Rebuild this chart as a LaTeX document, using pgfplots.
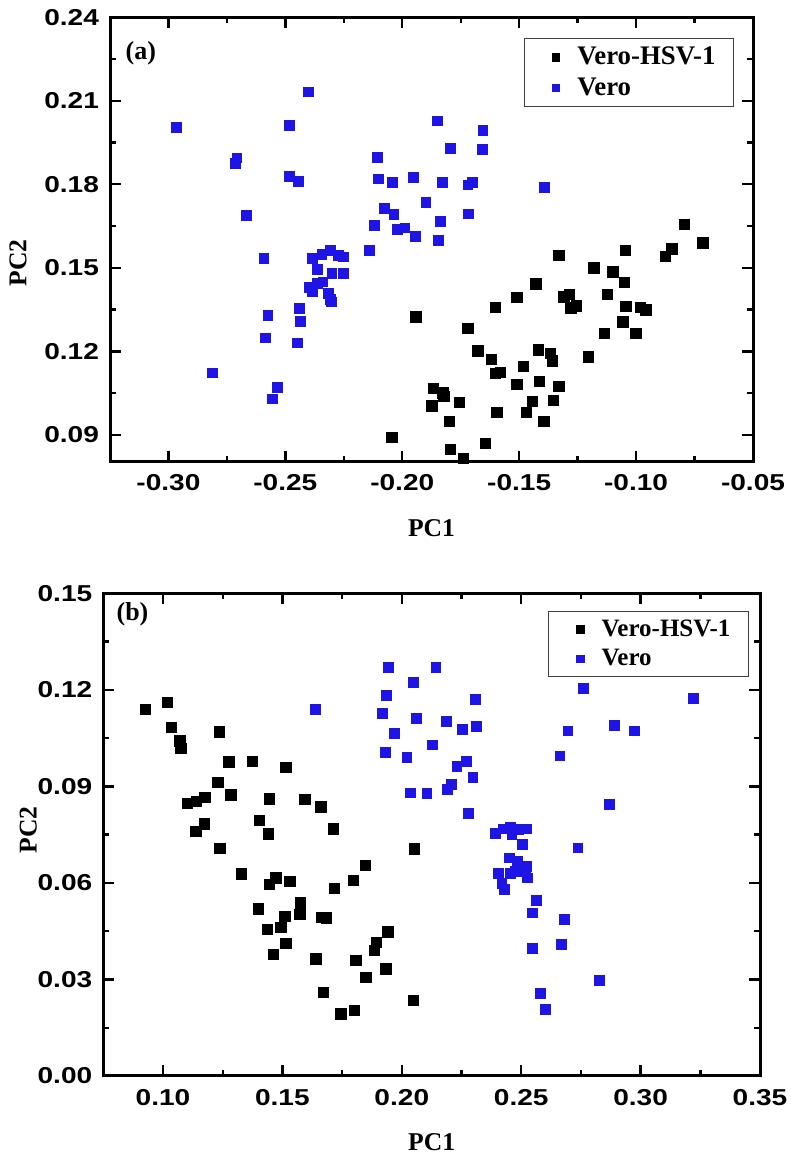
\documentclass[border=0pt]{standalone}
\usepackage{fontspec}
\setmainfont{Liberation Serif}
\newfontfamily\tickfont[FakeStretch=1.22]{Liberation Sans}
\usepackage{pgfplots}
\pgfplotsset{compat=1.18}
\definecolor{vblue}{RGB}{30,20,230}

\pgfplotstableread{
x y
-0.2045 0.0892
-0.1943 0.1324
-0.0795 0.1656
-0.0714 0.1590
-0.0848 0.1568
-0.0874 0.1542
-0.1047 0.1562
-0.1330 0.1546
-0.1181 0.1500
-0.1099 0.1486
-0.1051 0.1448
-0.1429 0.1442
-0.1510 0.1394
-0.1602 0.1358
-0.1309 0.1396
-0.1285 0.1404
-0.1280 0.1356
-0.1255 0.1364
-0.1122 0.1404
-0.1044 0.1362
-0.0983 0.1358
-0.0958 0.1350
-0.1057 0.1306
-0.1135 0.1266
-0.1001 0.1266
-0.1720 0.1284
-0.1677 0.1202
-0.1418 0.1206
-0.1368 0.1194
-0.1358 0.1166
-0.1205 0.1180
-0.1618 0.1172
-0.1483 0.1146
-0.1602 0.1122
-0.1582 0.1124
-0.1511 0.1082
-0.1415 0.1092
-0.1330 0.1074
-0.1868 0.1068
-0.1826 0.1052
-0.1822 0.1038
-0.1755 0.1018
-0.1873 0.1004
-0.1443 0.1021
-0.1354 0.1024
-0.1595 0.0982
-0.1469 0.0982
-0.1800 0.0950
-0.1394 0.0950
-0.1646 0.0870
-0.1795 0.0848
-0.1738 0.0816
}\topblack

\pgfplotstableread{
x y
-0.2966 0.2006
-0.2402 0.2132
-0.2484 0.2012
-0.2708 0.1895
-0.2715 0.1874
-0.2484 0.1830
-0.2444 0.1812
-0.2667 0.1688
-0.2107 0.1896
-0.2103 0.1820
-0.2043 0.1808
-0.1954 0.1824
-0.2078 0.1714
-0.2036 0.1692
-0.2021 0.1638
-0.1989 0.1644
-0.2121 0.1652
-0.1943 0.1612
-0.2142 0.1564
-0.2592 0.1534
-0.2386 0.1534
-0.2344 0.1549
-0.2308 0.1564
-0.2273 0.1546
-0.2251 0.1540
-0.2365 0.1494
-0.2301 0.1480
-0.2251 0.1480
-0.2400 0.1430
-0.2386 0.1415
-0.2365 0.1445
-0.2340 0.1450
-0.2315 0.1408
-0.2308 0.1386
-0.2302 0.1378
-0.2575 0.1330
-0.2440 0.1356
-0.2436 0.1308
-0.2585 0.1249
-0.2449 0.1231
-0.2811 0.1123
-0.2536 0.1072
-0.2557 0.1030
-0.1851 0.2028
-0.1656 0.1994
-0.1795 0.1928
-0.1659 0.1926
-0.1829 0.1808
-0.1720 0.1798
-0.1701 0.1808
-0.1394 0.1790
-0.1899 0.1736
-0.1836 0.1667
-0.1717 0.1694
-0.1847 0.1598
}\topblue

\pgfplotstableread{
x y
0.0927 0.1140
0.1017 0.1162
0.1035 0.1084
0.1070 0.1042
0.1074 0.1019
0.1235 0.1069
0.1276 0.0976
0.1373 0.0978
0.1515 0.0959
0.1229 0.0912
0.1284 0.0874
0.1102 0.0848
0.1140 0.0853
0.1175 0.0866
0.1445 0.0861
0.1594 0.0859
0.1660 0.0836
0.1172 0.0784
0.1403 0.0794
0.1137 0.0760
0.1441 0.0753
0.1713 0.0768
0.1238 0.0707
0.1329 0.0628
0.1445 0.0595
0.1473 0.0616
0.1531 0.0605
0.1797 0.0608
0.1846 0.0655
0.1717 0.0584
0.1399 0.0520
0.1576 0.0538
0.1573 0.0502
0.1510 0.0497
0.1494 0.0463
0.1436 0.0455
0.1515 0.0412
0.1462 0.0378
0.1664 0.0493
0.1685 0.0491
0.1941 0.0448
0.1892 0.0416
0.1884 0.0390
0.1640 0.0364
0.1808 0.0360
0.1933 0.0333
0.1849 0.0307
0.1671 0.0261
0.1744 0.0193
0.1800 0.0205
0.2052 0.0706
0.2049 0.0235
}\botblack

\pgfplotstableread{
x y
0.1638 0.1140
0.1944 0.1270
0.1934 0.1184
0.1920 0.1128
0.1969 0.1064
0.1930 0.1006
0.2021 0.0990
0.2035 0.0880
0.2142 0.1269
0.2049 0.1223
0.2307 0.1171
0.2060 0.1112
0.2185 0.1102
0.2254 0.1078
0.2311 0.1086
0.2128 0.1029
0.2230 0.0962
0.2269 0.0978
0.2297 0.0928
0.2206 0.0907
0.2191 0.0890
0.2105 0.0878
0.2279 0.0816
0.2760 0.1204
0.3220 0.1173
0.2695 0.1073
0.2890 0.1090
0.2974 0.1073
0.2662 0.0995
0.2869 0.0845
0.2391 0.0755
0.2426 0.0768
0.2454 0.0774
0.2461 0.0750
0.2489 0.0766
0.2521 0.0768
0.2503 0.0721
0.2737 0.0709
0.2451 0.0678
0.2482 0.0667
0.2521 0.0652
0.2517 0.0636
0.2454 0.0631
0.2475 0.0636
0.2405 0.0631
0.2419 0.0600
0.2430 0.0579
0.2524 0.0616
0.2563 0.0545
0.2547 0.0507
0.2682 0.0488
0.2545 0.0398
0.2668 0.0409
0.2828 0.0297
0.2580 0.0256
0.2601 0.0207
}\botblue

\pgfplotsset{
  pcastyle/.style={
    scale only axis,
    axis line style={line width=1.5pt},
    tick style={black, line width=1.2pt},
    major tick length=5.5pt,
    minor tick length=3pt,
    tick align=inside,
    minor x tick num=1,
    minor y tick num=1,
    ticklabel style={font=\tickfont\bfseries\fontsize{11.5pt}{13pt}\selectfont},
    /pgf/number format/fixed,
    /pgf/number format/fixed zerofill,
    /pgf/number format/precision=2,
    /pgf/number format/assume math mode=true,
    yticklabel style={xshift=-2pt},
    xticklabel style={yshift=-3pt},
    label style={font=\bfseries\fontsize{12.8pt}{15pt}\selectfont},
    legend cell align=left,
    legend image code/.code={\draw plot coordinates {(0.3cm,0cm)}; \path (0cm,0cm) (0.6cm,0cm);},
    legend image post style={mark size=1.9pt},
  },
  blk/.style={only marks, mark=square*, mark size=2.6pt, black, mark options={line width=0.3pt}},
  blu/.style={only marks, mark=square*, mark size=2.45pt, vblue, mark options={line width=0.3pt}},
}

\begin{document}
\begin{tikzpicture}
\useasboundingbox (0,0) rectangle (395.5pt,578pt);
% (a)
\begin{axis}[pcastyle,
  at={(55pt,347.15pt)}, anchor=south west,
  width=321.5pt, height=222.25pt,
  xmin=-0.325, xmax=-0.05, ymin=0.0804, ymax=0.24,
  xtick={-0.30,-0.25,-0.20,-0.15,-0.10,-0.05},
  ytick={0.09,0.12,0.15,0.18,0.21,0.24},
  xlabel={PC1}, ylabel={PC2},
  xlabel style={at={(rel axis cs:0.5,0)}, anchor=center, yshift=-33.3pt},
  ylabel style={at={(rel axis cs:0,0.447)}, anchor=center, yshift=46pt},
  legend style={at={(rel axis cs:0.9705,0.9525)}, anchor=north east,
    draw=black!75, line width=0.6pt, inner xsep=7pt, inner ysep=2pt,
    row sep=1pt, font=\bfseries\fontsize{13.4pt}{16pt}\selectfont},
]
\addplot[blk] table[x=x,y=y] {\topblack};
\addlegendentry{Vero-HSV-1}
\addplot[blu] table[x=x,y=y] {\topblue};
\addlegendentry{Vero}
\node[font=\bfseries\fontsize{13pt}{15pt}\selectfont] at (rel axis cs:0.048,0.918) {(a)};
\end{axis}
% (b)
\begin{axis}[pcastyle,
  at={(51.65pt,40pt)}, anchor=south west,
  width=328.35pt, height=241.35pt,
  xmin=0.075, xmax=0.35, ymin=0, ymax=0.15,
  xtick={0.10,0.15,0.20,0.25,0.30,0.35},
  ytick={0.00,0.03,0.06,0.09,0.12,0.15},
  xlabel={PC1}, ylabel={PC2},
  xlabel style={at={(rel axis cs:0.5,0)}, anchor=center, yshift=-33pt},
  ylabel style={at={(rel axis cs:0,0.51)}, anchor=center, yshift=37.5pt},
  legend style={at={(rel axis cs:0.9832,0.9633)}, anchor=north east,
    draw=black!75, line width=0.6pt, inner xsep=7pt, inner ysep=2pt,
    row sep=1pt, font=\bfseries\fontsize{12.5pt}{15.5pt}\selectfont},
]
\addplot[blk] table[x=x,y=y] {\botblack};
\addlegendentry{Vero-HSV-1}
\addplot[blu] table[x=x,y=y] {\botblue};
\addlegendentry{Vero}
\node[font=\bfseries\fontsize{13pt}{15pt}\selectfont] at (rel axis cs:0.0445,0.957) {(b)};
\end{axis}
\end{tikzpicture}
\end{document}
